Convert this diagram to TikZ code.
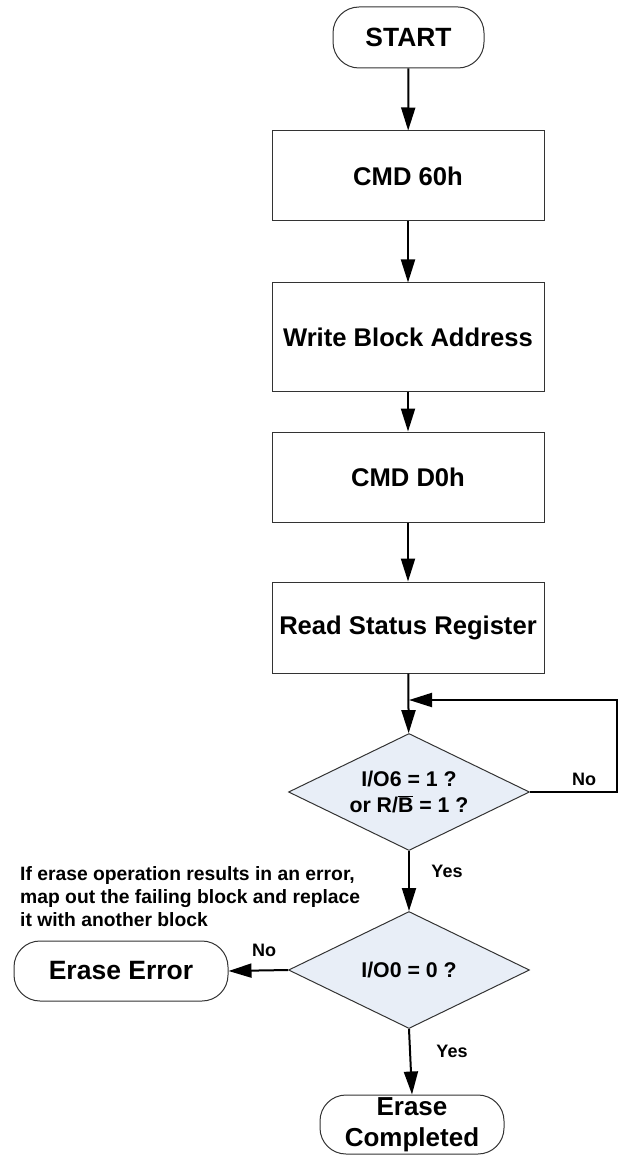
\documentclass[tikz,border=0pt]{standalone}
\usepackage{fontspec}
\setmainfont{Liberation Sans}
\usetikzlibrary{shapes.geometric,arrows.meta}
\definecolor{decisionblue}{RGB}{232,238,247}
\tikzstyle{terminal}=[draw=black!80,line width=1pt,rounded corners=26pt,align=center,inner sep=0pt,font=\bfseries\fontsize{26.4}{31}\selectfont]
\tikzstyle{process}=[draw=black!80,line width=1pt,minimum width=272pt,inner sep=0pt,font=\bfseries\fontsize{25.6}{31}\selectfont]
\tikzstyle{decision}=[draw=black!80,line width=1pt,fill=decisionblue,diamond,aspect=2.06,inner sep=0pt,minimum width=241pt,minimum height=117pt,align=center,font=\bfseries\fontsize{21.3}{26}\selectfont]
\tikzstyle{flow}=[line width=2pt,-{Triangle[length=23pt,width=14pt]}]
\tikzstyle{answer}=[font=\bfseries\fontsize{18}{22}\selectfont]
\newcommand{\notRB}{R/\ensuremath{\overline{\hbox{B}}}}

\begin{document}
\begin{tikzpicture}[x=1pt,y=-1pt]
	\useasboundingbox (0,0) rectangle (621,1155);
	% main column
	\node[terminal,minimum width=151pt,minimum height=61pt] (start) at (408.5,37.5) {START};
	\node[process,minimum height=90pt] (cmd60) at (408,176) {CMD 60h};
	\node[process,minimum height=108pt] (wraddr) at (408,337) {Write Block Address};
	\node[process,minimum height=90pt] (cmdd0) at (408,477) {CMD D0h};
	\node[process,minimum height=91pt] (status) at (408,627.5) {Read Status Register};
	\node[decision] (busy) at (409,792) {I/O6 = 1 ?\\or \notRB{} = 1 ?};
	\node[decision] (passfail) at (409,970) {I/O0 = 0 ?};
	\node[terminal,minimum width=214pt,minimum height=60pt,font=\bfseries\fontsize{26.5}{30}\selectfont] (fail) at (121,971) {Erase Error};
	\node[terminal,minimum width=184pt,minimum height=59pt,font=\bfseries\fontsize{26}{31}\selectfont] (done) at (412,1124.5) {Erase\\Completed};
	\coordinate (merge) at (409,700);

	\draw[flow] (start) -- (cmd60);
	\draw[flow] (cmd60) -- (wraddr);
	\draw[flow] (wraddr) -- (cmdd0);
	\draw[flow] (cmdd0) -- (status);
	\draw[flow] (status) -- (busy);
	\draw[flow] (busy.east) -- ++(87,0) |- (merge);
	\draw[flow] (busy) -- (passfail);
	\draw[flow] (passfail.west) -- (fail.east);
	\draw[flow] (passfail.south) -- (done.north);

	% labels
	\node[answer] (busyno) at (584,779) {No};
	\node[answer] (busyyes) at (447,871) {Yes};
	\node[answer] (failno) at (264,950) {No};
	\node[answer] (passyes) at (452,1051) {Yes};
	\node[anchor=west,align=left,inner sep=0pt,font=\bfseries\fontsize{19.3}{23}\selectfont] (remark) at (20,897)
		{If erase operation results in an error,\\map out the failing block and replace\\it with another block};
\end{tikzpicture}
\end{document}
